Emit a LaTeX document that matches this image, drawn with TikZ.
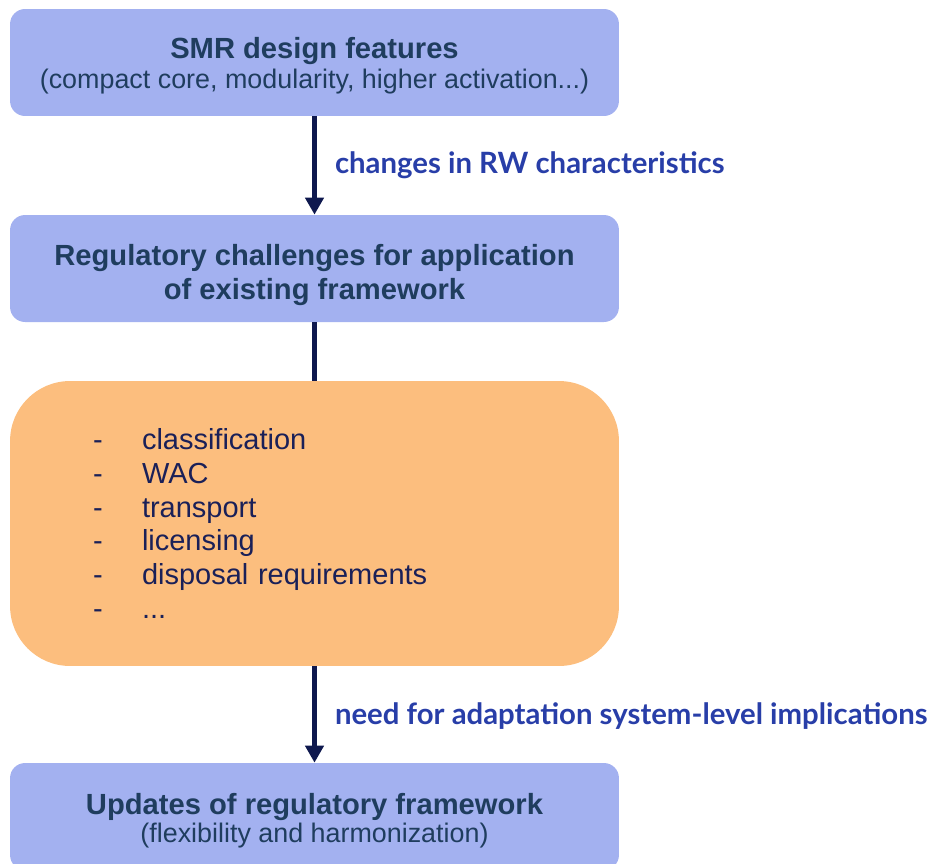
\documentclass[tikz,border=0pt]{standalone}
\usepackage{fontspec}
\setmainfont{Liberation Sans}
\newfontfamily\labelfont{Lato}
\usetikzlibrary{arrows.meta,positioning}
\usepackage{xcolor}
\definecolor{boxblue}{RGB}{163, 177, 240}
\definecolor{boxorange}{RGB}{252, 190, 126}
\definecolor{boxtext}{RGB}{31, 61, 94}
\definecolor{listtext}{RGB}{26, 32, 88}
\definecolor{labelblue}{RGB}{40, 62, 168}
\definecolor{arrowblue}{RGB}{14, 24, 78}

\newcommand{\boxtitle}{\bfseries\fontsize{16.6}{19.3}\selectfont}
\newcommand{\boxnote}{\fontsize{15.3}{17}\selectfont}
% taller first line, pushes the box text a little down
\newcommand{\topgap}[1][0.68cm]{\rule{0pt}{#1}}
\newcommand{\listitem}[1]{\makebox[0.98cm][l]{-}#1}

\begin{document}
\begin{tikzpicture}[x=0.02cm, y=-0.02cm,
        stage/.style={
            rectangle,
            rounded corners=0.3cm,
            fill=boxblue,
            text=boxtext,
            minimum width=12.18cm,
            minimum height=2.14cm,
            align=center,
            inner sep=0pt
        },
        issuebox/.style={
            rectangle,
            rounded corners=1.2cm,
            fill=boxorange,
            text=listtext,
            minimum width=12.18cm,
            minimum height=5.7cm,
            text width=8.86cm,
            align=left,
            inner sep=0pt,
            font=\fontsize{16.5}{19.3}\selectfont
        },
        flow/.style={
            draw=arrowblue,
            line width=0.1cm,
            -{Triangle[length=0.34cm, width=0.36cm]}
        },
        link/.style={draw=arrowblue, line width=0.1cm},
        effect/.style={
            right=0.36cm,
            inner sep=0pt,
            text=labelblue,
            font=\labelfont\bfseries\fontsize{16.7}{19}\selectfont
        }
    ]
    \useasboundingbox (0,0) rectangle (932,863);

    \node (smr) [stage] at (314.5,62.5)
    {
        \topgap[0.56cm]{\boxtitle SMR design features}\\[0.06cm]
        {\boxnote (compact core, modularity, higher activation...)}
    };

    \node (challenges) [stage, font=\boxtitle] at (314.5,268.5)
    {
        \topgap Regulatory challenges for application\\
        of existing framework
    };

    \node (issues) [issuebox] at (314.5,523.5)
    {
        \listitem{classification}\\
        \listitem{WAC}\\
        \listitem{transport}\\
        \listitem{licensing}\\
        \listitem{disposal requirements}\\
        \listitem{...}
    };

    \node (updates) [stage] at (314.5,816.5)
    {
        \topgap[0.6cm]{\boxtitle Updates of regulatory framework}\\[0.02cm]
        {\boxnote (flexibility and harmonization)}
    };

    \draw[flow] (smr) -- node[effect] {changes in RW characteristics} (challenges);
    \draw[link] (challenges) -- (issues);
    \draw[flow] (issues) -- node[effect, yshift=-0.04cm] {need for adaptation system-level implications} (updates);
\end{tikzpicture}
\end{document}
